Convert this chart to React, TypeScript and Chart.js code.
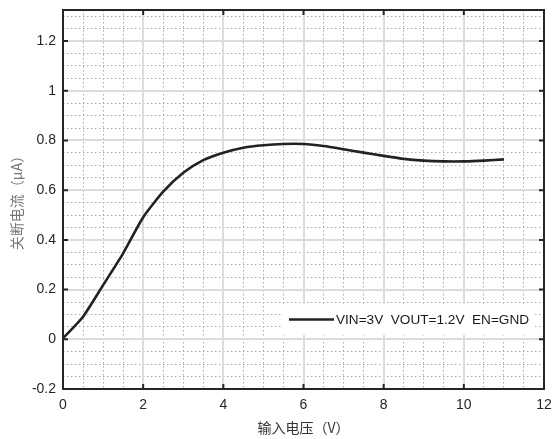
import React, { useEffect, useRef } from "react";
import { Chart, registerables } from "chart.js";

Chart.register(...registerables);

const xValues = [0, 0.5, 1, 1.5, 2, 2.5, 3, 3.5, 4, 4.5, 5, 5.5, 6, 6.5, 7, 7.5, 8, 8.5, 9, 9.5, 10, 10.5, 11];
const currentValues = [0.004, 0.091, 0.218, 0.346, 0.491, 0.594, 0.670, 0.721, 0.751, 0.771, 0.781, 0.786, 0.786, 0.778, 0.765, 0.751, 0.738, 0.726, 0.719, 0.716, 0.716, 0.719, 0.724];
const xTickValues = [0, 2, 4, 6, 8, 10, 12];
const yTickValues = [-0.2, 0, 0.2, 0.4, 0.6, 0.8, 1, 1.2];
const seriesLabel = "VIN=3V  VOUT=1.2V  EN=GND";
const xTitle = "输入电压（V）";
const yTitle = "关断电流（μA）";

const X_MIN = 0, X_MAX = 12, Y_MIN = -0.2, Y_MAX = 1.325;
const FONT = "'Liberation Sans', Arial, sans-serif";

const framePlugin = {
  id: "frame",
  afterDatasetsDraw(chart: any) {
    const { ctx, chartArea: a } = chart;
    const xs = chart.scales.x;
    const ys = chart.scales.y;
    // legend box
    const bw = 252, bh = 31;
    const bx = a.right - 10 - bw;
    const by = a.bottom - 85;
    ctx.save();
    ctx.fillStyle = "#ffffff";
    ctx.fillRect(bx, by, bw, bh);
    const cy = by + bh / 2;
    ctx.strokeStyle = "#222222";
    ctx.lineWidth = 2.6;
    ctx.beginPath();
    ctx.moveTo(bx + 7, cy);
    ctx.lineTo(bx + 52, cy);
    ctx.stroke();
    ctx.fillStyle = "#1a1a1a";
    ctx.font = `13.6px ${FONT}`;
    ctx.textBaseline = "middle";
    ctx.textAlign = "left";
    ctx.fillText(seriesLabel, bx + 54, cy + 1);
    // inward ticks
    ctx.strokeStyle = "#262626";
    ctx.lineWidth = 2;
    const tl = 5;
    ctx.beginPath();
    xs.ticks.forEach((t: any) => {
      const px = xs.getPixelForValue(t.value);
      ctx.moveTo(px, a.bottom);
      ctx.lineTo(px, a.bottom - tl);
      ctx.moveTo(px, a.top);
      ctx.lineTo(px, a.top + tl);
    });
    ys.ticks.forEach((t: any) => {
      const py = ys.getPixelForValue(t.value);
      ctx.moveTo(a.left, py);
      ctx.lineTo(a.left + tl, py);
      ctx.moveTo(a.right, py);
      ctx.lineTo(a.right - tl, py);
    });
    ctx.stroke();
    // border
    ctx.lineWidth = 2;
    ctx.strokeRect(a.left, a.top, a.right - a.left, a.bottom - a.top);
    ctx.restore();
  },
};

const noPad = (s: any) => {
  s.paddingLeft = 0;
  s.paddingRight = 0;
  s.paddingTop = 0;
  s.paddingBottom = 0;
};

export default function App() {
  const ref = useRef<HTMLCanvasElement>(null);
  useEffect(() => {
    if (!ref.current) return;
    const chart = new Chart(ref.current, {
      type: "line",
      data: {
        datasets: [
          {
            label: seriesLabel,
            data: xValues.map((x, i) => ({ x, y: currentValues[i] })),
            borderColor: "#222222",
            borderWidth: 2.6,
            pointRadius: 0,
            tension: 0.2,
            fill: false,
          },
        ],
      },
      options: {
        animation: false,
        responsive: false,
        layout: { padding: { top: 10, right: 11, left: 0, bottom: 0 } },
        plugins: { legend: { display: false }, tooltip: { enabled: false } },
        scales: {
          x2: {
            type: "linear",
            position: "bottom",
            min: X_MIN,
            max: X_MAX,
            z: -1,
            ticks: { display: false, stepSize: 0.5 },
            grid: { color: "#a8a8a8", lineWidth: 1, drawTicks: false },
            border: { display: false, dash: [1.5, 2.5] },
            afterFit: (s: any) => { s.height = 0; noPad(s); },
          },
          y2: {
            type: "linear",
            position: "left",
            min: Y_MIN,
            max: Y_MAX,
            z: -1,
            ticks: { display: false, stepSize: 0.05, includeBounds: false },
            grid: { color: "#a8a8a8", lineWidth: 1, drawTicks: false },
            border: { display: false, dash: [1.5, 2.5] },
            afterFit: (s: any) => { s.width = 0; noPad(s); },
          },
          x: {
            type: "linear",
            position: "bottom",
            min: X_MIN,
            max: X_MAX,
            afterBuildTicks: (s: any) => { s.ticks = xTickValues.map((v) => ({ value: v })); },
            ticks: {
              color: "#262626",
              font: { family: FONT, size: 14 },
              padding: 8,
              maxRotation: 0,
              callback: (v: any) => String(v),
            },
            grid: { color: "#dcdcdc", lineWidth: 2, drawTicks: false },
            border: { display: false },
            title: {
              display: true,
              text: xTitle,
              color: "#333333",
              font: { family: "'Noto Sans CJK SC', sans-serif", size: 14 },
              padding: { top: 0, bottom: 3 },
            },
            afterFit: (s: any) => { s.height = 50; noPad(s); },
          },
          y: {
            type: "linear",
            position: "left",
            min: Y_MIN,
            max: Y_MAX,
            afterBuildTicks: (s: any) => { s.ticks = yTickValues.map((v) => ({ value: v })); },
            ticks: {
              color: "#262626",
              font: { family: FONT, size: 14 },
              padding: 7,
              callback: (v: any) => String(Math.round(v * 10) / 10),
            },
            grid: { color: "#dcdcdc", lineWidth: 2, drawTicks: false },
            border: { display: false },
            title: {
              display: true,
              text: yTitle,
              color: "#777777",
              font: { family: "'Noto Sans CJK SC', sans-serif", size: 14 },
              padding: { top: 8, bottom: 0 },
            },
            afterFit: (s: any) => { s.width = 63; noPad(s); },
          },
        },
      } as any,
      plugins: [framePlugin],
    });
    return () => chart.destroy();
  }, []);
  return (
    <div style={{ position: "absolute", left: 0, top: 0, width: 555, height: 439, background: "#fff" }}>
      <canvas ref={ref} width={555} height={439} style={{ width: 555, height: 439, display: "block" }} />
    </div>
  );
}
